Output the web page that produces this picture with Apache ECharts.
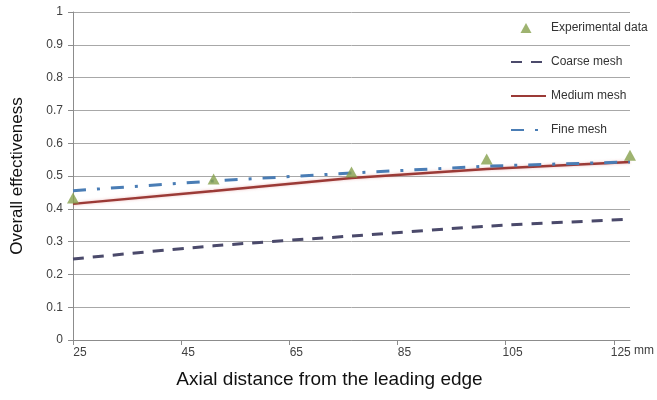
<!DOCTYPE html>
<html>
<head>
<meta charset="utf-8">
<script src="https://cdn.jsdelivr.net/npm/echarts@6/dist/echarts.min.js"></script>
<style>
html,body{margin:0;padding:0;background:#fff;}
#chart{width:657px;height:400px;}
</style>
</head>
<body>
<div id="chart"></div>
<script>
// Data
const xPositions = [25, 51, 76.5, 101.5, 128];
const experimental = [0.433, 0.491, 0.512, 0.552, 0.563];
const coarseMesh = [0.247, 0.287, 0.317, 0.347, 0.368];
const mediumMesh = [0.415, 0.454, 0.494, 0.521, 0.543];
const fineMesh = [0.455, 0.485, 0.509, 0.530, 0.543];
const xTickValues = [25, 45, 65, 85, 105, 125];
const seriesNames = ['Experimental data', 'Coarse mesh', 'Medium mesh', 'Fine mesh'];

function pairs(xs, ys) { return xs.map((x, i) => [x, ys[i]]); }

const chart = echarts.init(document.getElementById('chart'), null, {renderer: 'canvas'});
const font = 'Liberation Sans, Arial, sans-serif';
const noSymbol = {opacity: 0};
// triangle drawn inside a 35x12 box so the legend does not stretch it
const legendTriangle = 'path://M0,0 M35,12 M15,1 L20.5,11 L9.5,11 Z';

chart.setOption({
  animation: false,
  backgroundColor: '#ffffff',
  textStyle: {fontFamily: font},
  grid: {left: 73, right: 27, top: 12, bottom: 60, containLabel: false},
  legend: {
    orient: 'vertical',
    left: 505,
    top: 17,
    itemWidth: 35,
    itemHeight: 12,
    itemGap: 22,
    textStyle: {fontSize: 12, color: '#333333', fontFamily: font},
    data: [
      {name: seriesNames[0], icon: legendTriangle},
      {name: seriesNames[1], itemStyle: noSymbol},
      {name: seriesNames[2], itemStyle: noSymbol},
      {name: seriesNames[3], itemStyle: noSymbol}
    ]
  },
  xAxis: {
    type: 'value',
    min: 25,
    max: 128,
    name: 'Axial distance from the leading edge',
    nameLocation: 'middle',
    nameGap: 30,
    nameTextStyle: {fontSize: 19, color: '#111111', fontFamily: font, padding: [0, 44, 0, 0]},
    axisLine: {show: true, lineStyle: {color: '#8c8c8c', width: 1}},
    axisTick: {show: true, customValues: xTickValues, length: 5, inside: false, lineStyle: {color: '#8c8c8c'}},
    axisLabel: {customValues: xTickValues, fontSize: 12, color: '#404040', margin: 7, padding: [0, 0, 0, 14]},
    splitLine: {show: false}
  },
  yAxis: {
    type: 'value',
    min: 0,
    max: 1,
    interval: 0.1,
    name: 'Overall effectiveness',
    nameLocation: 'middle',
    nameGap: 47,
    nameTextStyle: {fontSize: 17, color: '#111111', fontFamily: font},
    axisLine: {show: true, lineStyle: {color: '#8c8c8c', width: 1}},
    axisTick: {show: true, length: 5, lineStyle: {color: '#8c8c8c'}},
    axisLabel: {fontSize: 12, color: '#404040', margin: 10},
    splitLine: {show: true, lineStyle: {color: '#a8a8a8', width: 1}}
  },
  graphic: [{
    type: 'text',
    left: 634,
    top: 345,
    style: {text: 'mm', fontSize: 12, fill: '#404040', fontFamily: font}
  }],
  series: [
    {
      name: seriesNames[1],
      type: 'line',
      data: pairs(xPositions, coarseMesh),
      showSymbol: false,
      symbol: 'none',
      smooth: 0.3,
      lineStyle: {color: '#4b4a6b', width: 3, type: [11, 9]},
      itemStyle: {color: '#4b4a6b'},
      z: 2
    },
    {
      name: seriesNames[2],
      type: 'line',
      data: pairs(xPositions, mediumMesh),
      showSymbol: false,
      symbol: 'none',
      lineStyle: {color: '#9b3a36', width: 2.5, shadowColor: 'rgba(220,120,120,0.5)', shadowBlur: 3},
      itemStyle: {color: '#9b3a36'},
      z: 3
    },
    {
      name: seriesNames[3],
      type: 'line',
      data: pairs(xPositions, fineMesh),
      showSymbol: false,
      symbol: 'none',
      lineStyle: {color: '#4a7db5', width: 3, type: [13, 11, 3, 11]},
      itemStyle: {color: '#4a7db5'},
      z: 4
    },
    {
      name: seriesNames[0],
      type: 'scatter',
      data: pairs(xPositions, experimental),
      symbol: 'triangle',
      symbolSize: [12, 11],
      itemStyle: {color: '#86a04c'},
      z: 5
    }
  ]
});
</script>
</body>
</html>
